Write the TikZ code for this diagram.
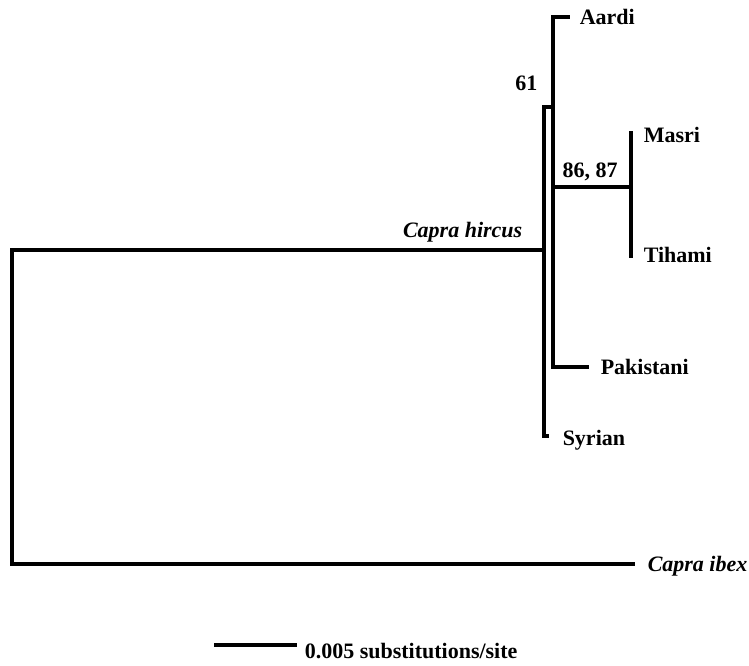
\documentclass[tikz,border=0pt]{standalone}
\usepackage{fontspec}
\setmainfont{Liberation Serif}
\usetikzlibrary{positioning}

\begin{document}
\begin{tikzpicture}[x=1pt,y=-1pt,line width=3.5pt,
  every node/.style={inner sep=0pt,font=\fontsize{22}{26}\selectfont\bfseries,text height=14.5pt,text depth=0pt},
  taxon/.style={anchor=west},
  branch/.style={to path={|- (\tikztotarget)}}]
            \useasboundingbox (0,0) rectangle (749,666);

            % inner nodes of the tree
            \coordinate (root) at (12,407);
            \coordinate (hircus) at (544,250);
            \coordinate (n61) at (553,107);
            \coordinate (mt) at (631,187);

            % tips
            \coordinate (aardi) at (570,17);
            \coordinate (masri) at (631,131);
            \coordinate (tihami) at (631,258);
            \coordinate (pakistani) at (589,367);
            \coordinate (syrian) at (549,436);
            \coordinate (ibex) at (635,564);

            \node [taxon,right=8pt of aardi] (lAardi) {Aardi};
            \node [taxon,right=11pt of masri,yshift=-4pt] (lMasri) {Masri};
            \node [taxon,right=11pt of tihami,yshift=3pt] (lTihami) {Tihami};
            \node [taxon,right=10pt of pakistani] (lPakistani) {Pakistani};
            \node [taxon,right=12pt of syrian,yshift=-2pt] (lSyrian) {Syrian};
            \node [taxon,right=11pt of ibex] (lIbex) {\textit{Capra ibex}};
            \node [anchor=east] (lHircus) at (524,230) {\textit{Capra hircus}};

            % support values
            \node [anchor=east] (b61) at (539,83) {61};
            \node (b86) at (590,170) {86, 87};

            \path [-] (root) edge[branch] (hircus);
            \path [-] (root) edge[branch] (ibex);
            \path [-] (hircus) edge[branch] (n61);
            \path [-] (hircus) edge[branch] (syrian);
            \path [-] (n61) edge[branch] (aardi);
            \path [-] (n61) edge[branch] (mt);
            \path [-] (n61) edge[branch] (pakistani);
            \path [-] (mt) edge[branch] (masri);
            \path [-] (mt) edge[branch] (tihami);

            % scale bar
            \coordinate (s1) at (214,645);
            \coordinate (s2) at (297,645);
            \path [-] (s1) edge (s2);
            \node [taxon] (lScale) at (303,651) {0.005 substitutions/site};
        \end{tikzpicture}
\end{document}
